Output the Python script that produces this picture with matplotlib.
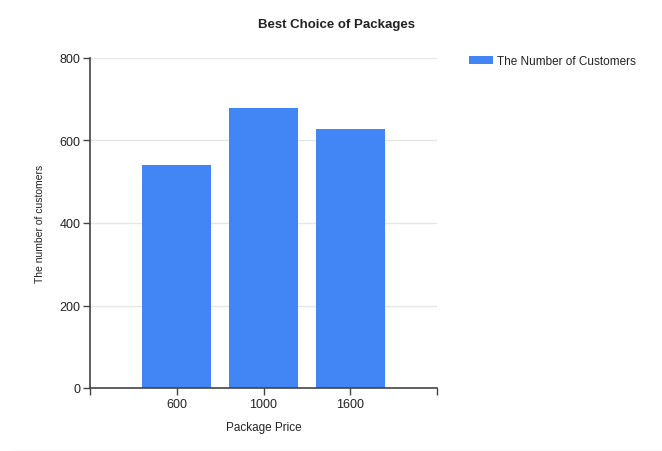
import matplotlib
matplotlib.use("Agg")
import matplotlib.pyplot as plt
from matplotlib.lines import Line2D

# chart data
prices = ['600', '1000', '1600']
customers = [540, 680, 628]
y_ticks = [0, 200, 400, 600, 800]

plt.rcParams['font.family'] = ['Liberation Sans', 'DejaVu Sans']

fig = plt.figure(figsize=(6.62, 4.52), dpi=100)
ax = fig.add_axes([90 / 662, 1 - 389 / 452, 347 / 662, 330 / 452])

x = range(len(prices))
bars = ax.bar(x, customers, width=0.8, color='#4285F4', zorder=2,
              label='The Number of Customers')

ax.set_xlim(-1, 3)
ax.set_ylim(0, 800)
ax.set_yticks(y_ticks)
ax.set_xticks([-1, 0, 1, 2, 3])
ax.set_xticklabels([''] + prices + [''])

for y in y_ticks[1:]:
    ax.axhline(y, color='#e6e6e6', linewidth=1, zorder=1)

for side in ['top', 'right']:
    ax.spines[side].set_visible(False)
for side in ['left', 'bottom']:
    ax.spines[side].set_color('#444444')
    ax.spines[side].set_linewidth(1.2)

ax.tick_params(axis='both', colors='#444444', labelcolor='#222222',
               labelsize=9, length=5, width=1, pad=2)

ax.set_xlabel('Package Price', fontsize=8.5, color='#222222', labelpad=8)
ax.set_ylabel('The number of customers', fontsize=7.5, color='#222222', labelpad=10)

fig.text(336 / 662, 1 - 25 / 452, 'Best Choice of Packages', ha='center', va='center',
         fontsize=9.5, fontweight='bold', color='#222222')

ax.legend(loc='center left', bbox_to_anchor=(469 / 662, 1 - 62 / 452),
          bbox_transform=fig.transFigure, frameon=False, fontsize=8.5,
          handlelength=2.0, handleheight=0.7, handletextpad=0.4, borderpad=0,
          borderaxespad=0, labelcolor='#222222')

fig.add_artist(Line2D([11 / 662, 1], [0.5 / 452, 0.5 / 452], color='#eeeeee',
                      linewidth=1, transform=fig.transFigure))

fig.savefig('out.png', dpi=100)
